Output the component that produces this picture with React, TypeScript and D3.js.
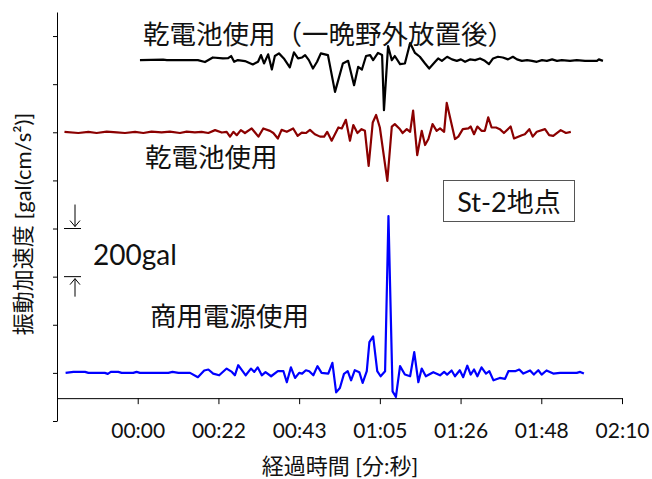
import { useEffect, useRef } from 'react';
import * as d3 from 'd3';

const W = 652;
const H = 479;

// x axis in seconds, Excel major unit 0.00025 day = 21.6 s
const xTickSeconds = [-21.6, 0, 21.6, 43.2, 64.8, 86.4, 108, 129.6];
const xTickLabels = ['', '00:00', '00:22', '00:43', '01:05', '01:26', '01:48', '02:10'];
const yTicks = [-200, 0, 200, 400, 600, 800, 1000, 1200, 1400];

const seriesNames = ['乾電池使用（一晩野外放置後）', '乾電池使用', '商用電源使用'];
const seriesColors = ['#000000', '#8b0000', '#0000ff'];
const seriesOffsets = [1300, 1000, 0]; // traces stacked on the y axis [gal]

// dry battery, after one night outdoors
const blackTime = [0.6, 6.8, 7.8, 16.1, 18.0, 20.1, 22.8, 24.2, 25.0, 25.8, 26.8, 28.7, 30.8, 32.2, 33.0,
    33.8, 34.9, 35.9, 36.7, 37.8, 39.1, 40.7, 41.8, 42.9, 44.0, 44.8, 45.8, 46.9, 48.0, 49.0, 50.9, 52.8,
    54.9, 56.3, 57.9, 59.0, 60.0, 61.1, 62.2, 63.0, 64.3, 65.4, 65.9, 67.0, 68.0, 68.8, 70.2, 71.5, 72.9,
    74.2, 75.5, 76.9, 78.0, 79.6, 80.4, 81.4, 82.8, 84.1, 85.4, 86.5, 87.6, 88.9, 90.3, 91.6, 92.9, 94.0,
    95.1, 96.4, 97.7, 99.1, 100.4, 101.5, 102.8, 104.2, 105.5, 106.8, 108.2, 109.5, 110.9, 112.2, 113.5,
    115.7, 117.5, 119.7, 122.9, 123.4, 124.5];
const blackAccel = [0, 2, 0, 0, -8, 11, 7, 8, 17, -7, 0, -4, -18, -7, 21, -14, 24, -39, 17, 28, 7, -30, 32,
    7, 11, 21, 0, -35, -7, 28, 21, -132, -14, -3, -104, -28, -39, 17, 21, 0, 30, 21, -208, 58, 0, 17, -17,
    -14, 71, 30, 14, -14, -35, -7, 7, -3, 14, 3, -3, 3, -7, 3, 0, 7, -3, -17, 7, 14, 11, 3, 14, 3, -3, 0,
    -3, -7, 0, -3, 3, -3, 0, -3, 0, -3, -3, 3, -3];

// dry battery
const redTime = [-19.6, -15.9, -13.2, -11.0, -8.3, -5.6, -3.4, -0.7, 1.5, 3.7, 6.4, 8.6, 11.3, 13.1, 15.3,
    17.1, 18.9, 20.7, 22.5, 23.8, 24.7, 25.6, 26.5, 27.6, 28.7, 30.5, 31.4, 32.3, 33.6, 35.4, 36.3, 37.5,
    38.5, 39.9, 41.6, 42.8, 43.9, 45.0, 46.1, 47.4, 48.8, 49.9, 50.7, 51.9, 53.7, 54.6, 55.7, 56.8, 57.7,
    58.8, 59.9, 60.8, 61.8, 62.9, 63.8, 64.8, 66.8, 68.0, 68.8, 70.0, 70.9, 72.0, 72.9, 73.7, 74.8, 76.0,
    76.9, 77.8, 78.9, 80.0, 80.9, 82.0, 82.7, 84.9, 85.8, 87.0, 88.5, 89.1, 90.0, 90.9, 92.0, 92.9, 93.8,
    94.7, 95.9, 96.9, 98.0, 99.8, 100.7, 102.8, 103.6, 104.8, 105.7, 106.8, 109.0, 110.1, 111.2, 113.2,
    114.6, 115.9];
const redAccel = [2, -3, 2, -3, 3, 0, -3, 2, -3, 3, 0, 3, -3, 3, 0, 2, -3, 9, -1, 2, -18, 2, -12, 9, -3, 16,
    -1, -18, 16, 6, -3, -26, 10, 2, 16, -15, -1, -3, 10, -8, -18, -18, 2, -35, 20, 16, 52, -35, 30, -3, 13,
    6, -140, 41, 72, 20, -202, 24, 34, 16, -3, 13, 2, 90, -95, 6, -53, -28, 34, 6, 16, 2, 122, -28, -18, 13,
    16, 24, -8, 24, 6, 6, 62, 20, 20, 13, -3, 24, -26, -12, -8, 13, -18, 2, 13, -12, -15, 9, -3, 2];

// mains power
const blueTime = [-19.3, -17.2, -14.1, -13.2, -8.8, -8.0, -7.2, -5.2, -4.3, -1.2, -0.3, 0.6, 8.2, 9.3, 10.9,
    14.0, 16.1, 17.8, 18.9, 20.2, 21.8, 23.8, 25.2, 26.0, 26.9, 28.9, 30.3, 31.2, 32.1, 33.2, 34.2, 35.7,
    37.5, 39.0, 39.9, 41.0, 42.1, 43.2, 44.0, 45.0, 45.9, 47.0, 48.1, 49.2, 51.0, 52.1, 53.1, 54.1, 55.2,
    56.2, 57.1, 58.1, 59.3, 60.2, 61.3, 62.0, 63.0, 64.1, 65.0, 66.2, 67.1, 68.2, 69.1, 70.2, 71.5, 72.9,
    74.0, 75.1, 76.0, 77.1, 79.1, 80.9, 82.0, 82.8, 84.0, 84.9, 86.2, 87.1, 88.2, 89.1, 90.0, 90.9, 92.0,
    93.2, 94.1, 95.2, 96.9, 98.3, 99.2, 101.0, 102.1, 103.2, 105.0, 106.0, 107.2, 108.1, 109.4, 111.2,
    113.0, 117.5, 118.4, 119.4];
const blueAccel = [0, 4, 4, 0, 0, -4, 4, 4, 0, 0, 4, 0, 0, 4, 0, 0, -18, 10, 14, -3, -10, 18, 4, -10, 32,
    -10, 18, 4, 23, -10, 3, -14, 7, 7, -39, 23, -21, 0, -3, 11, 7, -10, 28, 0, -3, 42, -81, -63, -4, 7, -31,
    11, 3, -42, 7, 128, 152, 7, -14, 7, 652, -77, -100, 28, -7, -14, 86, -39, 18, -14, 3, -10, 4, -7, 10,
    -14, 11, -18, 30, -7, 14, -14, 23, -3, 7, -31, -21, -25, 7, 7, 14, -3, 10, -7, 11, -7, 10, -3, 0, 0, 4, -3];

const seriesTimes = [blackTime, redTime, blueTime];
const seriesAccels = [blackAccel, redAccel, blueAccel];

const LATIN = "Lato, 'Noto Sans CJK JP', sans-serif";
const CJK = "'Noto Sans CJK JP', sans-serif";

export default function App() {
    const svgRef = useRef<SVGSVGElement | null>(null);

    useEffect(() => {
        if (!svgRef.current) return;
        const svg = d3.select(svgRef.current);
        svg.selectAll('*').remove();

        const x = d3.scaleLinear().domain([-21.6, 129.6]).range([57, 622]);
        const y = d3.scaleLinear().domain([-200, 1500]).range([421, 12]);
        const xAxisAt = y(-105);

        svg.append('rect').attr('width', W).attr('height', H).attr('fill', '#fff');

        // y axis (no labels)
        const gy = svg.append('g')
            .attr('transform', `translate(${x(-21.6)},0)`)
            .call(d3.axisLeft(y).tickValues(yTicks).tickSize(4).tickSizeOuter(0).tickFormat(() => ''));
        gy.selectAll('path, line').attr('stroke', '#000');

        // x axis
        const gx = svg.append('g')
            .attr('transform', `translate(0,${xAxisAt})`)
            .call(d3.axisBottom(x).tickValues(xTickSeconds).tickSize(6).tickSizeOuter(0)
                .tickFormat((_, i) => xTickLabels[i]));
        gx.selectAll('path, line').attr('stroke', '#000');
        gx.selectAll('text')
            .attr('y', 40)
            .attr('dy', 0)
            .attr('fill', '#111')
            .style('font-family', LATIN)
            .style('font-size', '21px');

        // traces
        seriesTimes.forEach((times, s) => {
            const pts = times.map((t, i) => [t, seriesAccels[s][i] + seriesOffsets[s]] as [number, number]);
            const line = d3.line<[number, number]>().x(d => x(d[0])).y(d => y(d[1]));
            svg.append('path')
                .attr('d', line(pts))
                .attr('fill', 'none')
                .attr('stroke', seriesColors[s])
                .attr('stroke-width', 2.2)
                .attr('stroke-linejoin', 'round');
        });

        // series labels
        const labelPos = [[143, 32.5], [145, 155], [150, 314.5]];
        seriesNames.forEach((name, s) => {
            svg.append('text')
                .attr('x', labelPos[s][0])
                .attr('y', labelPos[s][1])
                .attr('dominant-baseline', 'central')
                .style('font-family', CJK)
                .style('font-size', '26.5px')
                .attr('fill', '#111')
                .text(name);
        });

        // station box
        svg.append('rect')
            .attr('x', 443.5).attr('y', 180.5).attr('width', 131).attr('height', 41)
            .attr('fill', '#fff').attr('stroke', '#555').attr('stroke-width', 1);
        svg.append('text')
            .attr('x', 509).attr('y', 201)
            .attr('text-anchor', 'middle')
            .attr('dominant-baseline', 'central')
            .style('font-family', LATIN)
            .style('font-size', '27px')
            .attr('fill', '#111')
            .text('St-2地点');

        // 200 gal scale bar
        const yTop = y(600);
        const yBot = y(400);
        const bar = svg.append('g').attr('stroke', '#000').attr('stroke-width', 1).attr('fill', 'none');
        bar.append('line').attr('x1', 64).attr('x2', 81).attr('y1', yTop).attr('y2', yTop);
        bar.append('line').attr('x1', 64).attr('x2', 81).attr('y1', yBot).attr('y2', yBot);
        bar.append('line').attr('x1', 75).attr('x2', 75).attr('y1', yTop - 24).attr('y2', yTop - 2);
        bar.append('path').attr('d', `M70,${yTop - 8}L75,${yTop - 2}L80,${yTop - 8}`);
        bar.append('line').attr('x1', 75).attr('x2', 75).attr('y1', yBot + 2).attr('y2', yBot + 20);
        bar.append('path').attr('d', `M70,${yBot + 8}L75,${yBot + 2}L80,${yBot + 8}`);
        svg.append('text')
            .attr('x', 93).attr('y', 265)
            .style('font-family', LATIN)
            .style('font-size', '28px')
            .attr('fill', '#111')
            .text('200gal');

        // axis titles
        svg.append('text')
            .attr('x', 340).attr('y', 465)
            .attr('text-anchor', 'middle')
            .attr('dominant-baseline', 'central')
            .style('font-family', LATIN)
            .style('font-size', '22px')
            .attr('fill', '#111')
            .text('経過時間 [分:秒]');
        svg.append('text')
            .attr('transform', 'translate(22,224) rotate(-90)')
            .attr('text-anchor', 'middle')
            .attr('dominant-baseline', 'central')
            .style('font-family', LATIN)
            .style('font-size', '22px')
            .attr('fill', '#111')
            .text('振動加速度 [gal(cm/s²)]');
    }, []);

    return (
        <svg ref={svgRef} width={W} height={H}
             style={{ position: 'absolute', left: 0, top: 0, background: '#fff' }} />
    );
}
